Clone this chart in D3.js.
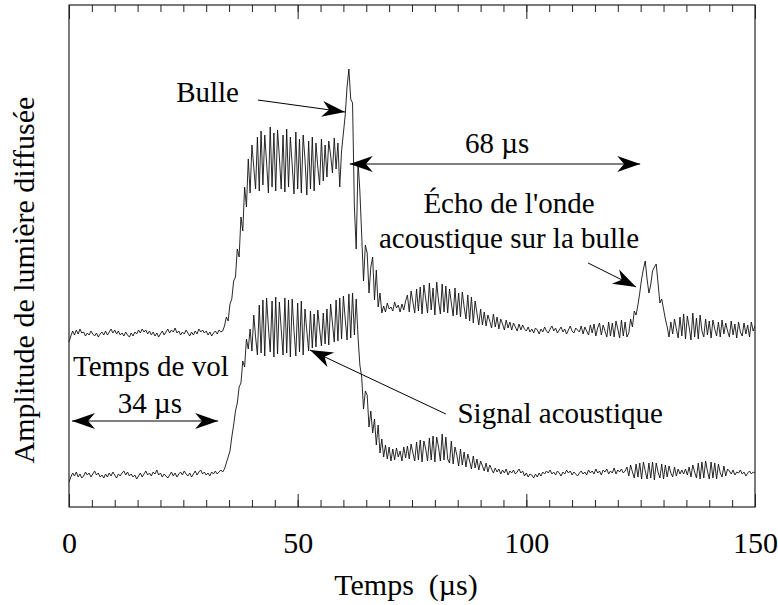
<!DOCTYPE html>
<html><head><meta charset="utf-8">
<script src="https://cdn.jsdelivr.net/npm/d3@7"></script>
<style>
body{margin:0;background:#fff}
svg text{font-family:"Liberation Serif","Times New Roman",Times,serif;fill:#000}
</style>
</head><body>
<svg id="chart" width="778" height="605"></svg>
<script>
// ---- data (time step 0.4 µs, amplitude in arbitrary units) ----
const timeStep = 0.4;
const echoTrace = [
165,171,176,172,177,173,178,174,175,171,174,172,176,173,171,174,170,173,175,172,
176,172,175,178,174,177,173,176,172,174,171,175,172,170,174,171,175,173,177,174,
178,175,177,173,176,172,175,171,174,170,173,176,172,175,178,174,177,175,179,174,
176,172,175,173,177,174,171,175,172,176,173,178,175,177,174,176,172,175,171,174,
176,173,177,175,
176,181,190,186,203,208,226,230,258,250,290,276,320,300,
348,314,362,340,318,370,316,376,322,372,345,314,380,320,374,316,377,350,318,372,
315,378,320,370,342,313,375,318,368,314,372,348,312,366,318,370,316,364,340,322,
368,326,362,330,366,352,334,369,338,364,320,356,
374,392,420,438,408,404,300,258,345,316,272,226,262,254,214,240,250,207,237,200,214,194,
201,195,204,198,200,196,205,199,202,195,203,197,206,
212,195,216,205,194,218,196,220,193,222,208,194,224,197,219,192,225,206,193,223,
195,221,194,218,204,191,219,192,214,190,215,200,188,212,186,210,184,206,194,182,198,
182,195,181,192,186,179,193,180,190,178,188,183,177,187,179,185,177,184,180,176,183,177,182,178,
176,180,175,178,174,179,177,173,178,175,180,176,174,178,181,176,179,174,177,180,
175,178,173,177,181,176,174,179,177,175,
181,173,180,176,172,182,174,183,171,179,184,172,182,176,170,185,171,184,170,186,178,169,187,171,185,170,
174,188,180,196,192,202,214,228,238,246,228,214,222,236,240,243,224,204,208,198,188,180,
170,185,173,188,178,169,190,171,193,168,191,180,167,194,170,189,168,192,176,170,
188,172,186,169,187,178,171,185,170,187,173,184,176,170,186,172,183,169,185,175,
171,184,173,182,170,185,176,181
];
const signalTrace = [
25,30,34,31,35,30,33,29,31,35,32,34,30,33,36,32,34,30,32,29,
33,30,34,31,35,32,29,33,31,34,36,32,35,31,33,30,32,28,31,34,
30,33,36,32,34,31,35,33,37,32,34,30,33,31,29,32,35,31,34,30,
33,35,32,36,33,31,34,30,33,36,32,35,37,33,35,32,34,31,35,33,
36,33,35,37,
35,38,44,50,56,70,82,96,104,120,124,146,140,168,158,
178,156,192,170,152,202,154,207,151,209,180,155,206,150,210,153,205,178,152,209,
154,207,150,208,176,151,204,155,206,152,198,176,156,196,159,193,160,197,178,161,
194,163,198,162,203,184,165,207,166,209,168,211,188,167,213,169,214,172,208,
170,142,130,98,116,112,80,96,74,88,62,82,54,68,50,62,48,60,46,58,
47,59,50,56,46,60,49,
61,48,63,54,46,65,47,67,45,66,58,46,69,47,71,45,70,60,46,73,47,70,48,
44,66,43,60,52,41,58,42,55,40,53,46,38,51,39,48,37,46,41,36,44,35,42,38,34,
39,35,38,33,37,34,38,32,36,34,37,33,35,38,34,36,31,34,30,33,
32,29,33,30,34,31,35,33,36,34,37,33,35,32,36,34,31,35,33,37,
34,36,32,35,33,31,34,36,33,35,32,37,34,36,33,38,34,36,32,37,
35,38,33,36,34,39,33,37,35,38,34,36,
40,31,42,35,29,43,30,44,28,45,36,28,44,29,45,27,44,35,29,43,28,42,30,41,34,30,40,31,38,33,
37,33,38,32,
40,30,42,35,29,44,28,45,29,46,36,28,45,29,44,28,43,34,30,41,31,38,
36,33,37,32,35,34,37,33,35,31,34,36,33,35,34
];
const xDomain = [0, 150];
const xMajorTicks = [0, 50, 100, 150];
const xMinorTicks = d3.range(0, 151, 5);
const xTitle = "Temps  (µs)";
const yTitle = "Amplitude de lumière diffusée";

// ---- layout ----
const svg = d3.select("#chart");
const L = 69, R = 755, T = 5, B = 507;
const x = d3.scaleLinear().domain(xDomain).range([L, R]);
const y = d3.scaleLinear().domain([0, 502]).range([B, T]);

svg.append("rect").attr("width", 778).attr("height", 605).attr("fill", "#fff");

// traces
const line = d3.line().x((d, i) => x(i * timeStep)).y(d => y(d));
[echoTrace, signalTrace].forEach(tr => {
  svg.append("path").datum(tr).attr("d", line)
    .attr("fill", "none").attr("stroke", "#111").attr("stroke-width", 0.9)
    .attr("stroke-linejoin", "round");
});

// frame
svg.append("rect").attr("x", L).attr("y", T).attr("width", R - L).attr("height", B - T)
  .attr("fill", "none").attr("stroke", "#222").attr("stroke-width", 1.2);

// ticks (inward, bottom and top)
function styleAxis(g) {
  g.select(".domain").remove();
  g.selectAll("line").attr("stroke", "#222").attr("stroke-width", 1);
}
svg.append("g").attr("transform", `translate(0,${B})`)
  .call(d3.axisBottom(x).tickValues(xMinorTicks).tickSize(-7).tickFormat("")).call(styleAxis);
svg.append("g").attr("transform", `translate(0,${B})`)
  .call(d3.axisBottom(x).tickValues(xMajorTicks).tickSize(-13).tickPadding(25).tickFormat(d3.format("d")))
  .call(styleAxis)
  .call(g => g.selectAll("text").attr("font-size", 30)
    .style("font-family", '"Liberation Serif","Times New Roman",serif').attr("fill", "#000"));
svg.append("g").attr("transform", `translate(0,${T})`)
  .call(d3.axisTop(x).tickValues(xMinorTicks).tickSize(-7).tickFormat("")).call(styleAxis);
svg.append("g").attr("transform", `translate(0,${T})`)
  .call(d3.axisTop(x).tickValues(xMajorTicks).tickSize(-14).tickFormat("")).call(styleAxis);

// axis titles
svg.append("text").attr("x", 406).attr("y", 595).attr("text-anchor", "middle")
  .attr("font-size", 30).style("white-space", "pre").text(xTitle);
svg.append("text").attr("transform", "translate(34,280) rotate(-90)")
  .attr("text-anchor", "middle").attr("font-size", 30).text(yTitle);

// annotations
const AL = 23, AW = 8;
function head(tx, ty, fx, fy) {
  const dx = tx - fx, dy = ty - fy, len = Math.hypot(dx, dy);
  const ux = dx / len, uy = dy / len, nx = -uy, ny = ux;
  const pts = [[tx, ty],
    [tx - AL * ux + AW * nx, ty - AL * uy + AW * ny],
    [tx - 0.7 * AL * ux, ty - 0.7 * AL * uy],
    [tx - AL * ux - AW * nx, ty - AL * uy - AW * ny]];
  svg.append("path").attr("d", "M" + pts.map(p => p.join(",")).join("L") + "Z")
    .attr("fill", "#000");
}
function arrow(t1, v1, t2, v2, both) {
  const x1 = x(t1), y1 = y(v1), x2 = x(t2), y2 = y(v2);
  svg.append("line").attr("x1", x1).attr("y1", y1).attr("x2", x2).attr("y2", y2)
    .attr("stroke", "#000").attr("stroke-width", 1);
  head(x2, y2, x1, y1);
  if (both) head(x1, y1, x2, y2);
}
function label(t, v, txt, anchor) {
  svg.append("text").attr("x", x(t)).attr("y", y(v)).attr("text-anchor", anchor || "middle")
    .attr("font-size", 29).text(txt);
}

label(30.3, 405, "Bulle");
arrow(41.3, 407, 60.35, 395, false);

label(93.6, 354, "68 µs");
arrow(61.4, 343, 124.9, 343, true);

label(96.2, 294, "Écho de l'onde");
label(96.2, 259, "acoustique sur la bulle");
arrow(113.5, 244, 124.0, 220, false);

label(17.9, 131, "Temps de vol");
label(17.7, 94, "34 µs");
arrow(0.66, 86, 32.6, 86, true);

label(107.4, 84, "Signal acoustique");
arrow(82.4, 93, 52.7, 157, false);
</script>
</body></html>
